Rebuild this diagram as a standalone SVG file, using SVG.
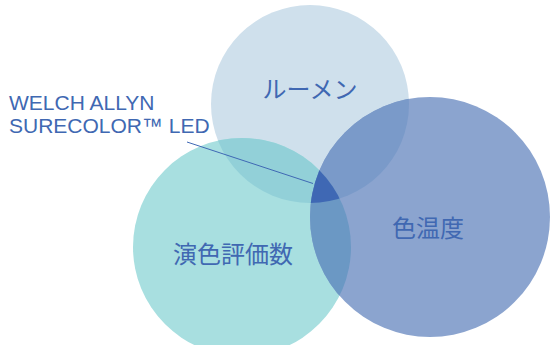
<svg xmlns="http://www.w3.org/2000/svg" width="553" height="345" viewBox="0 0 553 345">
<style>
.lbl{font-family:"Liberation Sans","Noto Sans CJK JP",sans-serif;fill:#4068b2;font-size:21px;}
.jp{font-family:"Noto Sans CJK JP","Noto Sans CJK SC",sans-serif;font-size:24px;fill:#4068b2;text-anchor:middle;}
</style>
<defs>
<clipPath id="cTop"><circle cx="310" cy="104" r="99"/></clipPath>
<clipPath id="cLeft"><circle cx="242" cy="247" r="109"/></clipPath>
<clipPath id="cRight"><circle cx="430" cy="217" r="120"/></clipPath>
</defs>
<rect width="553" height="345" fill="#ffffff"/>
<g id="lumen">
<circle cx="310" cy="104" r="99" fill="#cfe0ec"/>
</g>
<g id="cri">
<circle cx="242" cy="247" r="109" fill="#a8dfe0"/>
</g>
<g id="cct">
<circle cx="430" cy="217" r="120" fill="#8ba4cf"/>
</g>
<g id="overlaps">
<circle cx="242" cy="247" r="109" fill="#92d0d8" clip-path="url(#cTop)"/>
<circle cx="430" cy="217" r="120" fill="#7a9ac9" clip-path="url(#cTop)"/>
<circle cx="430" cy="217" r="120" fill="#6b98c4" clip-path="url(#cLeft)"/>
<g clip-path="url(#cTop)"><circle cx="430" cy="217" r="120" fill="#3f68b4" clip-path="url(#cLeft)"/></g>
</g>
<g id="texts">
<text class="jp" x="310" y="98">ルーメン</text>
<text class="jp" x="428" y="237">色温度</text>
<text class="jp" x="233" y="263">演色評価数</text>
</g>
<g id="led-label">
<text class="lbl" x="9" y="110">WELCH ALLYN</text>
<text class="lbl" x="9" y="133">SURECOLOR™ LED</text>
</g>
<g id="connectors">
<line x1="187" y1="142" x2="313" y2="183.5" stroke="#3f68b4" stroke-width="1"/>
</g>
</svg>
